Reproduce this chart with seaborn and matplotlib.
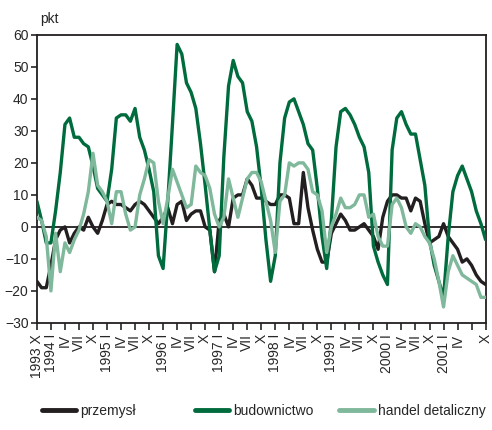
import matplotlib
matplotlib.use("Agg")
import matplotlib.pyplot as plt
import seaborn as sns
import pandas as pd

# monthly data, 1993 X .. 2001 X
przemysl = [-17, -19, -19, -12, -4, -1, 0, -5, -2, 0, -1, 3, 0, -2, 2, 7, 8, 7, 7, 6,
            5, 7, 8, 7, 5, 3, 1, 3, 6, 1, 7, 8, 2, 4, 5, 5, 0, -1, -14, 2,
            4, 0, 9, 10, 10, 15, 13, 9, 9, 8, 7, 7, 10, 10, 9, 1, 1, 17, 6, -1,
            -7, -11, -11, -2, 1, 4, 2, -1, -1, 0, 1, -1, -3, -7, 3, 8, 10, 10, 9, 9,
            5, 9, 8, 1, -5, -4, -3, 1, -3, -5, -7, -11, -10, -12, -15, -17, -18]
budownictwo = [8, 2, -5, -5, 5, 17, 32, 34, 28, 28, 26, 25, 19, 12, 10, 8, 18, 34, 35, 35,
               33, 37, 28, 24, 18, 11, -9, -13, 8, 32, 57, 54, 45, 42, 37, 26, 13, -1, -14, -9,
               22, 44, 52, 47, 45, 36, 33, 25, 12, -4, -17, -9, 20, 34, 39, 40, 36, 32, 26, 24,
               12, -3, -13, 2, 25, 36, 37, 35, 32, 28, 25, 17, -6, -11, -15, -18, 24, 34, 36, 32,
               29, 29, 21, 13, -4, -12, -17, -22, -3, 11, 16, 19, 15, 11, 5, 1, -4]
handel = [3, 2, -3, -20, -2, -14, -5, -8, -4, -1, 4, 11, 23, 13, 11, 8, 1, 11, 11, 4,
          -1, 0, 10, 15, 21, 20, 8, 1, 9, 18, 14, 10, 6, 7, 19, 17, 16, 12, 4, 0,
          3, 15, 9, 3, 9, 15, 17, 17, 14, 8, 2, -8, 8, 10, 20, 19, 20, 20, 18, 11,
          10, 5, -8, 0, 4, 9, 6, 6, 7, 10, 10, 3, 4, -3, -6, -6, 7, 9, 6, 0,
          -2, 1, 0, -3, -5, -10, -17, -25, -14, -9, -12, -15, -16, -17, -18, -22, -22]

tick_labels = ["1993 X", "1994 I", "IV", "VII", "X", "1995 I", "IV", "VII", "X",
               "1996 I", "IV", "VII", "X", "1997 I", "IV", "VII", "X",
               "1998 I", "IV", "VII", "X", "1999 I", "IV", "VII", "X",
               "2000 I", "IV", "VII", "X", "2001 I", "IV", "", "X"]

names = ["przemysł", "budownictwo", "handel detaliczny"]
colors = ["#231f20", "#006b3c", "#7fb89b"]

months = list(range(len(przemysl)))
df = pd.DataFrame({
    "m": months * 3,
    "value": przemysl + budownictwo + handel,
    "series": [names[0]] * len(przemysl) + [names[1]] * len(budownictwo) + [names[2]] * len(handel),
})

sns.set_style("white")
plt.rcParams["font.family"] = ["Liberation Sans Narrow", "Liberation Sans", "DejaVu Sans"]

fig = plt.figure(figsize=(4.92, 4.30), dpi=100)
ax = fig.add_axes([0.075, 0.249, 0.912, 0.670])

ax.axhline(0, color="#231f20", lw=1.3, zorder=1)
sns.lineplot(data=df, x="m", y="value", hue="series", hue_order=names,
             palette=dict(zip(names, colors)), lw=2.4, ax=ax, legend=False, zorder=3)

ax.set_xlim(0, 96)
ax.set_ylim(-30, 60)
ax.set_yticks(range(-30, 61, 10))
ax.set_xticks(range(0, 97, 3))
ax.set_xticklabels(tick_labels, rotation=90, fontsize=10)
ax.tick_params(axis="y", labelsize=10, length=4, width=1.2, direction="out", left=True, pad=2)
ax.tick_params(axis="x", length=5, width=1.2, direction="out", bottom=True, pad=3)
ax.set_xlabel("")
ax.set_ylabel("")
for sp in ax.spines.values():
    sp.set_color("#231f20")
    sp.set_linewidth(1.3)

fig.text(0.081, 0.955, "pkt", fontsize=10, ha="left", va="center")

# legend entries at evenly spaced positions below the chart
for name, col, x0 in zip(names, colors, [0.085, 0.396, 0.69]):
    h = plt.Line2D([], [], color=col, lw=3.5)
    fig.legend([h], [name], loc="center left", bbox_to_anchor=(x0, 0.045),
               frameon=False, fontsize=10, handlelength=2.45, handletextpad=0.3,
               borderpad=0, borderaxespad=0)

fig.savefig("out.png", dpi=100)
